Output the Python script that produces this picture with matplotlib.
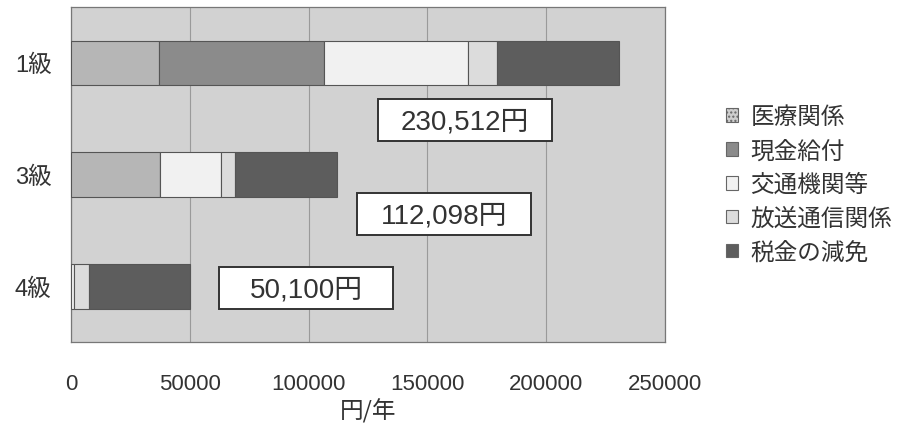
import matplotlib
matplotlib.use("Agg")
import matplotlib.pyplot as plt
from matplotlib.patches import Patch, Rectangle
import numpy as np

plt.rcParams['font.family'] = ['Liberation Sans', 'Noto Sans CJK JP', 'DejaVu Sans']

categories = ['1級', '3級', '4級']
series_names = ['医療関係', '現金給付', '交通機関等', '放送通信関係', '税金の減免']
iryo = [37100, 37400, 0]
genkin = [69200, 0, 0]
kotsu = [60800, 25900, 1400]
hoso = [12200, 5700, 6300]
zeikin = [51212, 43098, 42400]
x_ticks = [0, 50000, 100000, 150000, 200000, 250000]
x_label = '円/年'

series = [iryo, genkin, kotsu, hoso, zeikin]
colors = ['#b6b6b6', '#8b8b8b', '#f1f1f1', '#dcdcdc', '#5d5d5d']

fig = plt.figure(figsize=(9, 4.31), dpi=100)
ax = fig.add_axes([71/900, 88/431, 594/900, 335/431])
ax.set_facecolor('#d2d2d2')

y = np.arange(len(categories))
left = np.zeros(len(categories))
for vals, col in zip(series, colors):
    v = np.array(vals, dtype=float)
    ax.barh(y, v, left=left, height=0.4, color=col, edgecolor='#555555',
            linewidth=0.8, zorder=3)
    left += v

ax.set_xlim(0, 250000)
ax.set_ylim(2.5, -0.5)

totals = left
# fixed-size label boxes (layout positions, data coords)
box_w = 73200
box_h = 0.376
label_pos = [(165800, 0.512), (157000, 1.356), (98900, 2.016)]
for t, (lx, ly) in zip(totals, label_pos):
    ax.add_patch(Rectangle((lx - box_w / 2, ly - box_h / 2), box_w, box_h,
                           facecolor='white', edgecolor='#333333',
                           linewidth=1.4, zorder=4))
    ax.text(lx, ly + 0.01, f"{int(round(t)):,}円", ha='center', va='center',
            fontsize=20, color='#333333', zorder=5,
            family=['Liberation Sans', 'Noto Sans CJK JP'])

ax.set_xticks(x_ticks)
ax.set_xticklabels([str(v) for v in x_ticks], fontsize=16, color='#333333')
ax.set_yticks(y)
ax.set_yticklabels(categories, fontsize=17, color='#333333',
                   family=['Liberation Sans', 'Noto Sans CJK JP'])
ax.tick_params(axis='x', length=0, pad=22)
ax.tick_params(axis='y', length=0, pad=14)
ax.xaxis.grid(True, color='#9a9a9a', linewidth=0.8, zorder=1)
ax.set_axisbelow(True)
for s in ax.spines.values():
    s.set_color('#777777')
    s.set_linewidth(0.9)
ax.set_xlabel(x_label, fontsize=17, color='#333333', labelpad=3,
              family=['Noto Sans CJK JP'])

handles = [Patch(facecolor=c, edgecolor='#666666', linewidth=0.8) for c in colors]
handles[0] = Patch(facecolor='#cfcfcf', edgecolor='#666666', hatch='....', linewidth=0.8)
leg = fig.legend(handles, series_names, loc='upper left',
                 bbox_to_anchor=(717/900, 334/431), frameon=False,
                 prop={'family': 'Noto Sans CJK JP', 'size': 17},
                 handlelength=0.51, handleheight=0.51, handletextpad=0.5,
                 labelspacing=0.46, borderaxespad=0)
for txt in leg.get_texts():
    txt.set_color('#333333')

fig.savefig('out.png', dpi=100, facecolor='white')
